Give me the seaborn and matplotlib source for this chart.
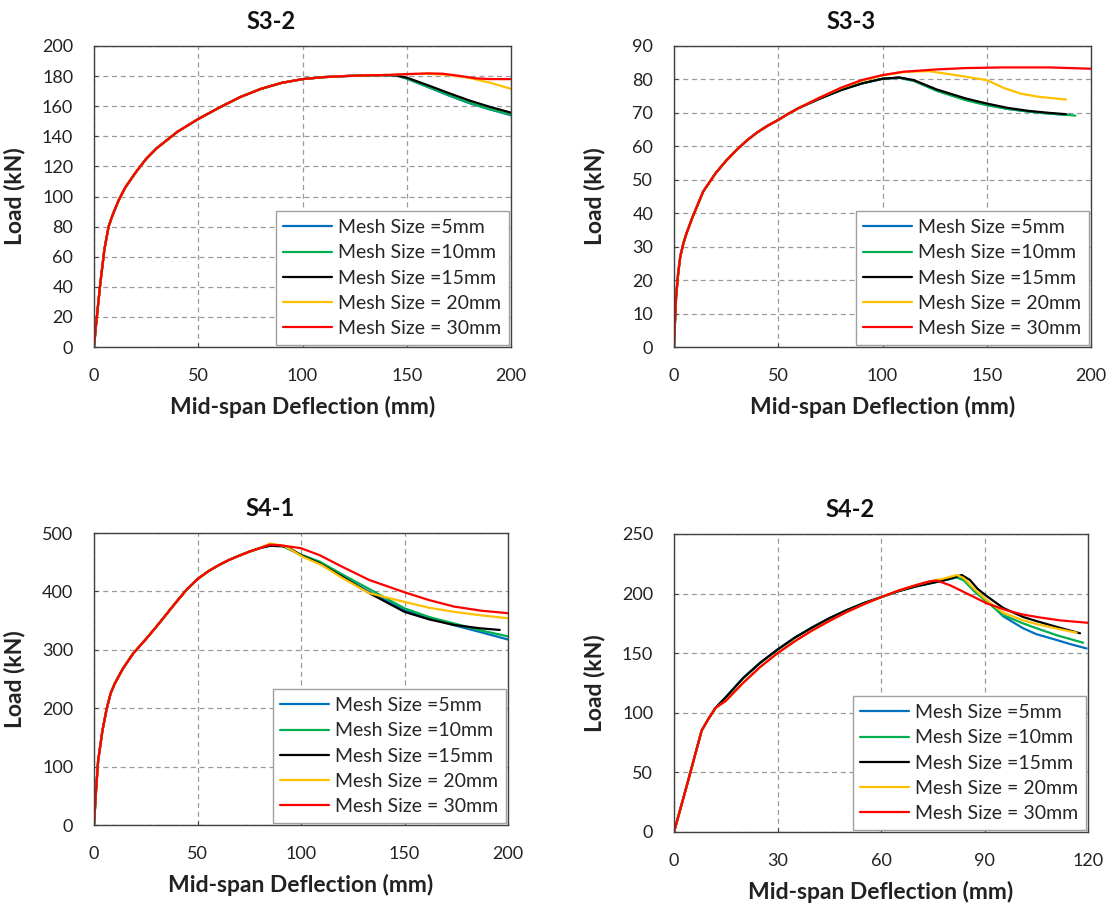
import numpy as np
import pandas as pd
import matplotlib
matplotlib.use("Agg")
import matplotlib.pyplot as plt
import seaborn as sns

# ---------------- data ----------------
labels = ["Mesh Size =5mm", "Mesh Size =10mm", "Mesh Size =15mm",
          "Mesh Size = 20mm", "Mesh Size = 30mm"]
colors = ["#0070C0", "#00B050", "#000000", "#FFC000", "#FF0000"]

# S3-2: shared ascending branch, then per-mesh post-peak branches
s32_rise_x = [0, 1, 3, 5, 7, 9, 12, 15, 20, 25, 30, 40, 50, 60, 70, 80, 90, 100, 110, 120, 130, 140]
s32_rise_y = [0, 15, 42, 65, 80, 88, 98, 106, 116, 125, 132, 143, 151.5, 159, 166, 171.5, 175.5, 178, 179.3, 180, 180.5, 180.7]
s32_5_x = [145, 150, 160, 170, 180, 190, 200]
s32_5_y = [180.4, 178.3, 172.8, 167.2, 162, 157.8, 154]
s32_10_x = [145, 150, 160, 170, 180, 190, 200]
s32_10_y = [180.4, 178.5, 173, 167.5, 162.3, 158, 154.3]
s32_15_x = [145, 150, 160, 170, 180, 190, 200]
s32_15_y = [180.5, 179, 174, 168.8, 163.8, 159.5, 155.7]
s32_20_x = [145, 150, 160, 170, 180, 190, 200]
s32_20_y = [181, 181.3, 181.6, 180.8, 178.8, 175.6, 171.5]
s32_30_x = [145, 150, 160, 167, 175, 183, 190, 200]
s32_30_y = [181, 181.3, 181.8, 181.6, 180.2, 178.5, 178, 178]

# S3-3
s33_rise_x = [0, 0.5, 1, 2, 3, 4.5, 6, 9, 14, 20, 25, 30, 35, 40, 45, 50, 55, 60]
s33_rise_y = [0, 8, 15, 22, 27, 31, 34, 39, 46.5, 52, 55.7, 58.9, 61.8, 64.2, 66.2, 67.9, 69.8, 71.5]
s33_5_x = [70, 80, 90, 100, 108, 115, 126, 140, 150, 160, 170, 180, 190]
s33_5_y = [74.3, 76.8, 78.8, 80.2, 80.5, 79.6, 76.7, 73.9, 72.4, 71.2, 70.4, 69.8, 69.4]
s33_10_x = [70, 80, 90, 100, 108, 115, 126, 140, 150, 160, 170, 180, 192.5]
s33_10_y = [74.3, 76.8, 78.8, 80.2, 80.5, 79.6, 76.6, 73.8, 72.3, 71.2, 70.4, 69.8, 69.2]
s33_15_x = [70, 80, 90, 100, 108, 115, 126, 140, 150, 160, 170, 180, 188]
s33_15_y = [74.3, 76.8, 78.8, 80.2, 80.6, 79.8, 77, 74.3, 72.8, 71.5, 70.6, 70, 69.6]
s33_20_x = [70, 80, 90, 100, 110, 122, 135, 150, 158, 166, 175, 188]
s33_20_y = [74.6, 77.4, 79.6, 81.2, 82.2, 82.5, 81.3, 79.8, 77.5, 75.8, 74.8, 74]
s33_30_x = [70, 80, 90, 100, 110, 126, 140, 158, 180, 200]
s33_30_y = [74.6, 77.5, 79.8, 81.3, 82.3, 83, 83.4, 83.6, 83.6, 83.2]

# S4-1
s41_rise_x = [0, 1, 2, 4, 6, 8, 10, 14, 19, 25, 30, 35, 40, 45, 50, 55, 60, 65, 70, 75, 80]
s41_rise_y = [0, 60, 110, 160, 197, 225, 242, 268, 294, 318, 339, 361, 383, 404, 421, 434, 444.5, 453.5, 461, 468, 474]
s41_5_x = [85, 91, 100, 109, 120, 133, 150, 162, 174, 187, 200]
s41_5_y = [480, 478, 462, 449, 426, 399, 368, 354, 342, 330, 317.6]
s41_10_x = [85, 91, 100, 109, 120, 133, 150, 162, 174, 187, 200]
s41_10_y = [480, 478, 463, 451, 429, 404, 371, 356, 345, 333, 323]
s41_15_x = [85, 93, 100, 109, 120, 133, 150, 162, 174, 186, 196]
s41_15_y = [478, 477, 462, 448, 425, 397, 365, 352, 342.5, 337, 334]
s41_20_x = [85, 92, 101, 110, 120, 133, 150, 162, 174, 187, 200]
s41_20_y = [482, 478, 459, 445, 423, 397, 382, 372, 365, 359, 354]
s41_30_x = [85, 90, 100, 109, 120, 133, 150, 162, 174, 187, 200]
s41_30_y = [480, 479, 474, 462, 442, 419.5, 398.5, 385, 374, 367, 362.7]

# S4-2: two slightly different ascending branches
s42_rise_a_x = [0, 4, 8, 10, 12, 15, 20, 25, 30, 35, 40, 45, 50, 55, 60, 65, 70, 74, 78]
s42_rise_a_y = [0, 42, 85, 95, 104, 113, 129, 142, 153, 163, 171.5, 179.3, 186, 192, 197, 202, 206, 208.5, 211]
s42_rise_b_x = [0, 4, 8, 10, 12, 15, 20, 25, 30, 35, 40, 45, 50, 55, 60, 65, 70, 74]
s42_rise_b_y = [0, 42, 85, 95, 104, 110, 125, 138.5, 150, 160, 169, 177, 184.5, 191, 197, 202.5, 207, 210.2]
s42_5_x = [82, 84, 87, 90.6, 95.4, 101.2, 105, 111, 115, 119.6]
s42_5_y = [213.6, 212, 203, 194.6, 181, 170.9, 166, 161, 157.5, 154]
s42_10_x = [82, 84, 87, 90.6, 95.4, 101.2, 105, 111, 118.6]
s42_10_y = [213.6, 211, 202, 193.3, 182, 175, 171, 165, 158.8]
s42_15_x = [80, 83.4, 85.8, 88, 90.6, 95.4, 101.2, 105, 111, 117.7]
s42_15_y = [212.5, 215.6, 211.4, 204, 198, 188, 180.4, 177, 172, 166.7]
s42_20_x = [78, 82, 84, 87, 90.6, 95.4, 101.2, 105, 111, 116.7]
s42_20_y = [212.5, 215.6, 213, 204, 194.6, 184, 177.6, 174.5, 170.6, 167.2]
s42_30_x = [76.1, 80, 84.8, 90.6, 96.4, 101, 106, 112, 120]
s42_30_y = [211, 207, 200.2, 191.9, 186, 182.5, 180, 177.5, 175.5]

panels = [
    dict(title="S3-2", ymax=200, ystep=20, xmax=200, xstep=50,
         series=[(s32_rise_x + s32_5_x, s32_rise_y + s32_5_y),
                 (s32_rise_x + s32_10_x, s32_rise_y + s32_10_y),
                 (s32_rise_x + s32_15_x, s32_rise_y + s32_15_y),
                 (s32_rise_x + s32_20_x, s32_rise_y + s32_20_y),
                 (s32_rise_x + s32_30_x, s32_rise_y + s32_30_y)]),
    dict(title="S3-3", ymax=90, ystep=10, xmax=200, xstep=50,
         series=[(s33_rise_x + s33_5_x, s33_rise_y + s33_5_y),
                 (s33_rise_x + s33_10_x, s33_rise_y + s33_10_y),
                 (s33_rise_x + s33_15_x, s33_rise_y + s33_15_y),
                 (s33_rise_x + s33_20_x, s33_rise_y + s33_20_y),
                 (s33_rise_x + s33_30_x, s33_rise_y + s33_30_y)]),
    dict(title="S4-1", ymax=500, ystep=100, xmax=200, xstep=50,
         series=[(s41_rise_x + s41_5_x, s41_rise_y + s41_5_y),
                 (s41_rise_x + s41_10_x, s41_rise_y + s41_10_y),
                 (s41_rise_x + s41_15_x, s41_rise_y + s41_15_y),
                 (s41_rise_x + s41_20_x, s41_rise_y + s41_20_y),
                 (s41_rise_x + s41_30_x, s41_rise_y + s41_30_y)]),
    dict(title="S4-2", ymax=250, ystep=50, xmax=120, xstep=30,
         series=[(s42_rise_a_x + s42_5_x, s42_rise_a_y + s42_5_y),
                 (s42_rise_a_x + s42_10_x, s42_rise_a_y + s42_10_y),
                 (s42_rise_a_x + s42_15_x, s42_rise_a_y + s42_15_y),
                 (s42_rise_b_x + s42_20_x, s42_rise_b_y + s42_20_y),
                 (s42_rise_b_x + s42_30_x, s42_rise_b_y + s42_30_y)]),
]

# ---------------- style ----------------
sns.set_style("ticks")
plt.rcParams["font.family"] = ["Lato", "DejaVu Sans"]
plt.rcParams["axes.edgecolor"] = "#404040"

fig = plt.figure(figsize=(11.16, 9.10), dpi=100)
rects = [
    [94 / 1116, 1 - 347 / 910, 417 / 1116, 301 / 910],
    [674 / 1116, 1 - 347 / 910, 417 / 1116, 301 / 910],
    [94 / 1116, 1 - 825 / 910, 414 / 1116, 292 / 910],
    [674 / 1116, 1 - 832 / 910, 414 / 1116, 298 / 910],
]
ylab_x = [-0.165, -0.165, -0.167, -0.167]

for i, (p, r) in enumerate(zip(panels, rects)):
    ax = fig.add_axes(r)
    frames = []
    for lab, (xs, ys) in zip(labels, p["series"]):
        frames.append(pd.DataFrame({"x": xs, "y": ys, "mesh": lab}))
    df = pd.concat(frames, ignore_index=True)
    sns.lineplot(data=df, x="x", y="y", hue="mesh", hue_order=labels,
                 palette=dict(zip(labels, colors)), estimator=None,
                 sort=False, linewidth=1.6, ax=ax, legend=False)

    ax.set_xlim(0, p["xmax"])
    ax.set_ylim(0, p["ymax"])
    ax.set_xticks(np.arange(0, p["xmax"] + 1, p["xstep"]))
    ax.set_yticks(np.arange(0, p["ymax"] + 1, p["ystep"]))
    ax.grid(True, color="#9a9a9a", linestyle=(0, (4, 3)), linewidth=0.9)
    ax.set_axisbelow(True)
    for s in ax.spines.values():
        s.set_visible(True)
        s.set_linewidth(1.0)
        s.set_color("#404040")
    ax.tick_params(direction="in", length=3, width=0.8, labelsize=13,
                   colors="#404040", labelcolor="#222222")
    ax.tick_params(axis="x", pad=15)
    ax.tick_params(axis="y", pad=15)

    ax.set_title(p["title"], fontsize=17, fontweight="bold", x=0.425, pad=12,
                 color="#111111")
    ax.set_xlabel("Mid-span Deflection (mm)", fontsize=16.5, fontweight="bold",
                  labelpad=9, color="#222222")
    ax.set_ylabel("Load (kN)", fontsize=16.5, fontweight="bold", color="#222222")
    ax.yaxis.set_label_coords(ylab_x[i], 0.5)

    handles = [plt.Line2D([], [], color=c, linewidth=1.6) for c in colors]
    leg = ax.legend(handles, labels, loc="lower right", fontsize=14,
                    frameon=True, fancybox=False, framealpha=1,
                    edgecolor="#a0a0a0", borderaxespad=0.12,
                    handlelength=2.5, handletextpad=0.3, labelspacing=0.42,
                    borderpad=0.4)
    leg.get_frame().set_linewidth(1.0)

fig.savefig("out.png", dpi=100)
